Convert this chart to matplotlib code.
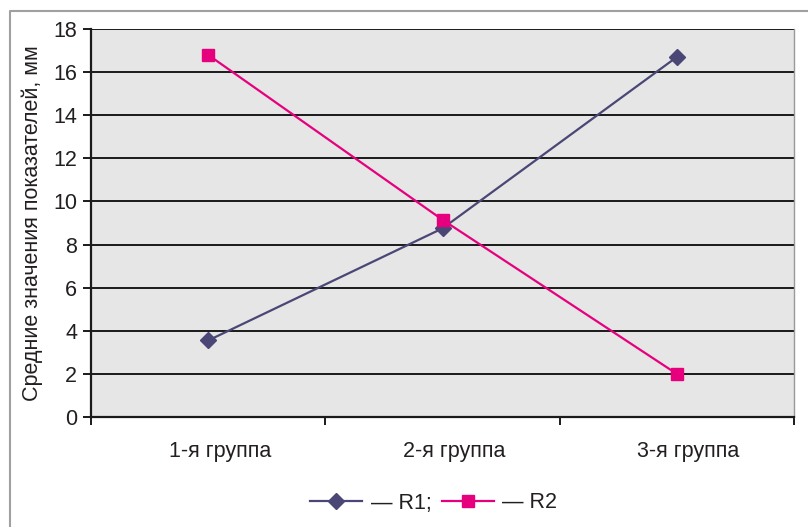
import numpy as np
import matplotlib.pyplot as plt
from matplotlib.lines import Line2D

plt.rcParams["font.family"] = ["Liberation Sans", "DejaVu Sans"]

# Data
groups = ["1-я группа", "2-я группа", "3-я группа"]
r1 = [3.55, 8.75, 16.7]
r2 = [16.8, 9.15, 2.0]
yticks = [0, 2, 4, 6, 8, 10, 12, 14, 16, 18]

fs = 15.5

fig = plt.figure(figsize=(8.08, 5.27), dpi=100)
ax = fig.add_axes([91 / 808, 1 - 417 / 527, 703 / 808, 388 / 527])
ax.set_facecolor("#e6e6e6")

x = np.arange(len(groups))
ax.plot(x, r1, color="#4a4776", lw=1.6, marker="D", ms=8, label="— R1;")
ax.plot(x, r2, color="#e6007e", lw=1.6, marker="s", ms=8.5, label="— R2")

ax.set_xlim(-0.5, 2.5)
ax.set_ylim(0, 18)
ax.set_yticks(yticks)
for y in yticks[1:]:
    ax.axhline(y, color="#1a1a1a", lw=1.4, zorder=1)

# category labels (slightly right of the points, as in the original), tick marks at boundaries
ax.set_xticks([-0.5, 0.5, 1.5, 2.5])
ax.set_xticklabels([])
ax.set_xticks(x + 0.05, minor=True)
ax.set_xticklabels(groups, minor=True, fontsize=fs, color="#231f20")
ax.tick_params(axis="x", which="minor", length=0, pad=17)
ax.tick_params(axis="x", which="major", direction="out", length=6, width=1.4, color="#1a1a1a")
ax.tick_params(axis="y", direction="out", length=6, width=1.4, color="#1a1a1a",
               labelsize=fs, labelcolor="#231f20", pad=4)

ax.spines["left"].set_linewidth(1.6)
ax.spines["left"].set_color("#1a1a1a")
ax.spines["bottom"].set_linewidth(1.6)
ax.spines["bottom"].set_color("#1a1a1a")
ax.spines["top"].set_visible(False)
ax.spines["right"].set_color("#999999")
ax.spines["right"].set_linewidth(1.0)

ax.set_ylabel("Средние значения показателей, мм", fontsize=fs, color="#231f20", labelpad=7)

# outer frame (left and top)
fig.add_artist(Line2D([10 / 808, 10 / 808, 1.0], [0.0, 1 - 11 / 527, 1 - 11 / 527],
                      transform=fig.transFigure, color="#a0a0a0", lw=1.5))

fig.legend(loc="center", bbox_to_anchor=(0.537, 1 - 503 / 527), ncol=2, frameon=False,
           fontsize=fs, handlelength=2.4, columnspacing=0.5, handletextpad=0.4,
           labelcolor="#231f20")

plt.savefig("out.png", dpi=100)
